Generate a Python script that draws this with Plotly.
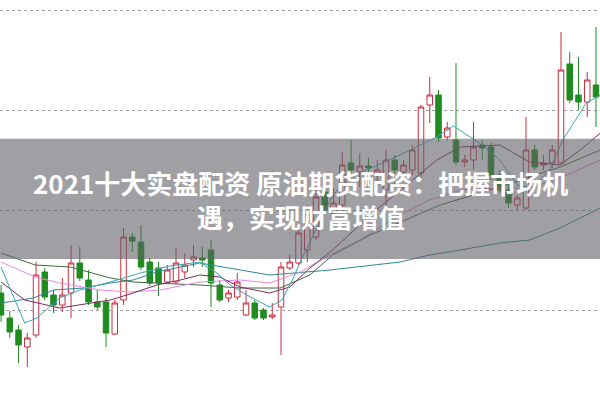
import plotly.graph_objects as go

# ---- candle data (price units) ----
idx = list(range(69))
open_ = [101.7, 99.2, 98.0, 96.3, 97.5, 103.8, 101.5, 100.5, 101.7, 104.7,
         103.0, 100.8, 100.8, 97.6, 101.0, 107.3, 106.8, 104.8, 104.2, 102.8,
         102.8, 103.8, 105.0, 105.2, 106.0, 102.5, 101.2, 101.3, 99.5, 100.7,
         100.0, 99.3, 100.3, 104.2, 104.7, 106.0, 107.3, 111.8, 109.7, 110.5,
         114.7, 113.8, 114.4, 113.5, 112.0, 115.0, 113.8, 114.0, 113.7, 120.5,
         121.5, 117.3, 117.0, 114.8, 115.0, 116.5, 116.3, 113.5, 112.0, 110.5,
         110.2, 116.0, 114.5, 114.7, 114.7, 124.6, 121.5, 120.8, 122.5]
close = [99.5, 97.8, 96.5, 97.2, 103.5, 101.3, 100.5, 101.5, 104.7, 103.2,
         100.8, 100.3, 97.7, 100.7, 107.3, 106.9, 104.3, 102.7, 102.7, 104.0,
         104.7, 104.5, 105.3, 105.0, 102.7, 101.0, 101.7, 102.8, 100.7, 99.2,
         99.2, 99.5, 104.3, 104.8, 107.7, 109.5, 111.3, 110.0, 110.7, 114.5,
         114.0, 114.4, 114.2, 114.0, 115.0, 114.0, 114.5, 116.0, 120.3, 121.5,
         117.2, 118.2, 114.8, 115.0, 116.3, 116.2, 113.5, 112.0, 110.7, 111.2,
         116.0, 114.3, 114.7, 116.0, 124.0, 121.0, 120.8, 123.0, 121.3]
high = [102.5, 99.9, 98.5, 97.7, 104.8, 104.2, 102.0, 103.2, 106.5, 106.3,
        104.0, 102.0, 101.2, 101.0, 108.2, 107.7, 108.5, 105.2, 104.8, 104.5,
        106.2, 105.7, 106.5, 106.3, 107.0, 103.0, 102.0, 103.7, 102.0, 101.0,
        100.2, 100.7, 104.8, 105.5, 108.0, 110.5, 112.7, 113.2, 112.2, 115.8,
        117.0, 115.7, 115.2, 115.0, 116.0, 115.5, 115.0, 116.5, 120.5, 123.3,
        122.0, 118.8, 124.7, 115.5, 118.8, 117.0, 116.7, 114.0, 112.5, 111.5,
        119.3, 116.5, 115.5, 116.5, 127.8, 125.8, 125.3, 123.8, 128.3]
low = [98.8, 97.2, 94.7, 94.3, 97.2, 101.0, 99.7, 99.8, 99.2, 102.9,
       100.5, 100.0, 96.3, 97.5, 100.5, 105.8, 104.0, 102.4, 101.4, 102.6,
       102.6, 103.2, 104.3, 104.3, 100.3, 100.8, 100.8, 101.0, 99.4, 99.0,
       99.0, 99.1, 95.5, 104.0, 104.5, 104.8, 107.0, 109.8, 109.0, 110.2,
       113.7, 112.3, 113.3, 112.5, 110.3, 112.3, 113.0, 113.5, 113.2, 118.7,
       116.8, 117.0, 114.5, 114.3, 114.0, 115.0, 113.0, 111.7, 110.2, 110.0,
       110.0, 114.0, 114.0, 114.2, 114.5, 120.7, 120.0, 119.3, 118.3]

# ---- moving-average lines ----
ma5_x = [0, 2.7, 4.1, 6.7, 9.0, 12.5, 15.9, 19.3, 22.7, 24.5, 26.2, 28.5, 30.7,
         32.1, 33.3, 34.2, 36.1, 37.9, 39.9, 41.8, 45.6, 47.9, 49.8, 51.7, 55.0,
         57.0, 59.0, 60.7, 62.7, 64.2, 66.9, 68.5]
ma5_y = [104.3, 98.7, 99.2, 101.2, 102.0, 102.8, 103.7, 104.4, 104.8, 103.8,
         102.5, 101.3, 100.3, 101.0, 103.0, 104.8, 108.2, 111.5, 113.2, 114.0,
         115.5, 116.5, 117.3, 118.4, 116.5, 115.0, 112.5, 112.2, 114.0, 117.0,
         120.7, 121.5]
ma10_x = [0, 2.7, 6.7, 10.2, 12.5, 15.1, 17.8, 20.5, 22.7, 25.0, 27.3, 30.7,
          33.0, 35.3, 37.9, 42.2, 45.6, 49.8, 52.5, 57.0, 60.4, 63.9, 66.2, 68.5]
ma10_y = [102.8, 101.0, 100.2, 100.7, 101.0, 101.7, 102.5, 103.0, 103.5, 103.3,
          102.3, 101.7, 102.3, 104.2, 106.0, 109.5, 112.0, 115.0, 116.3, 116.5,
          114.8, 114.5, 116.0, 117.7]
ma20_x = [0, 3.9, 6.7, 11.3, 14.7, 18.2, 22.7, 27.3, 30.7, 34.2, 37.6, 41.0,
          45.6, 49.0, 52.5, 57.0, 60.4, 63.9, 68.5]
ma20_y = [104.8, 103.3, 102.7, 102.0, 101.8, 102.0, 102.8, 103.0, 102.7, 103.8,
          105.5, 107.0, 109.5, 111.0, 112.0, 112.2, 112.2, 113.2, 115.0]
ma30_x = [0, 3.9, 7.9, 12.5, 15.1, 18.2, 22.7, 27.3, 31.9, 35.3, 37.9, 42.2,
          45.6, 50.2, 57.0, 63.9, 68.5]
ma30_y = [105.7, 104.5, 104.3, 103.2, 102.8, 102.7, 102.5, 102.2, 102.2, 103.5,
          105.5, 107.5, 108.8, 110.5, 112.3, 114.3, 116.0]
ma60_x = [0, 3.7, 6.0, 9.4, 12.5, 15.1, 17.8, 22.7, 30.7, 37.6, 45.6, 49.0,
          52.5, 57.0, 60.4, 63.9, 68.5]
ma60_y = [100.7, 101.2, 102.0, 102.2, 102.7, 103.0, 103.8, 104.7, 103.5, 104.0,
          104.8, 105.5, 106.0, 106.7, 107.0, 108.2, 110.2]

grid_vals = [100, 110, 120, 130]
title_lines = ["2021十大实盘配资 原油期货配资：把握市场机", "遇，实现财富增值"]

RED = "#cc2c3c"
GREEN = "#1e8c1e"

fig = go.Figure()
fig.add_trace(go.Candlestick(
    x=idx, open=open_, high=high, low=low, close=close,
    increasing=dict(line=dict(color=RED, width=1), fillcolor="white"),
    decreasing=dict(line=dict(color=GREEN, width=1), fillcolor=GREEN),
    showlegend=False, hoverinfo="skip"))

for xs, ys, col in [(ma60_x, ma60_y, "#2f8894"), (ma30_x, ma30_y, "#3f6b3f"),
                    (ma20_x, ma20_y, "#e48ae4"), (ma10_x, ma10_y, "#7a2d5e"),
                    (ma5_x, ma5_y, "#3aa6b6")]:
    fig.add_trace(go.Scatter(x=xs, y=ys, mode="lines",
                             line=dict(color=col, width=1),
                             showlegend=False, hoverinfo="skip"))

fig.update_layout(
    width=600, height=399, margin=dict(l=0, r=0, t=0, b=0),
    paper_bgcolor="white", plot_bgcolor="white", boxgap=0.1,
    xaxis=dict(range=[-0.12, 68.46], showgrid=False, zeroline=False,
               showticklabels=False, rangeslider=dict(visible=False)),
    yaxis=dict(range=[91.1, 131.0], tickvals=grid_vals, showgrid=True,
               gridcolor="#a0a0a0", griddash="dot", gridwidth=1,
               zeroline=False, showticklabels=False),
    shapes=[dict(type="rect", xref="paper", yref="paper", x0=0, x1=1,
                 y0=0.351, y1=0.652, fillcolor="rgba(96,96,104,0.6)",
                 line=dict(width=0), layer="above")],
    annotations=[
        dict(text="<b>" + "<br>".join(title_lines) + "</b>",
             xref="paper", yref="paper", x=0.5, y=0.499, showarrow=False,
             align="center",
             font=dict(family="Noto Sans CJK SC", size=26, color="white")),
    ],
)

fig.write_html("out.html")
